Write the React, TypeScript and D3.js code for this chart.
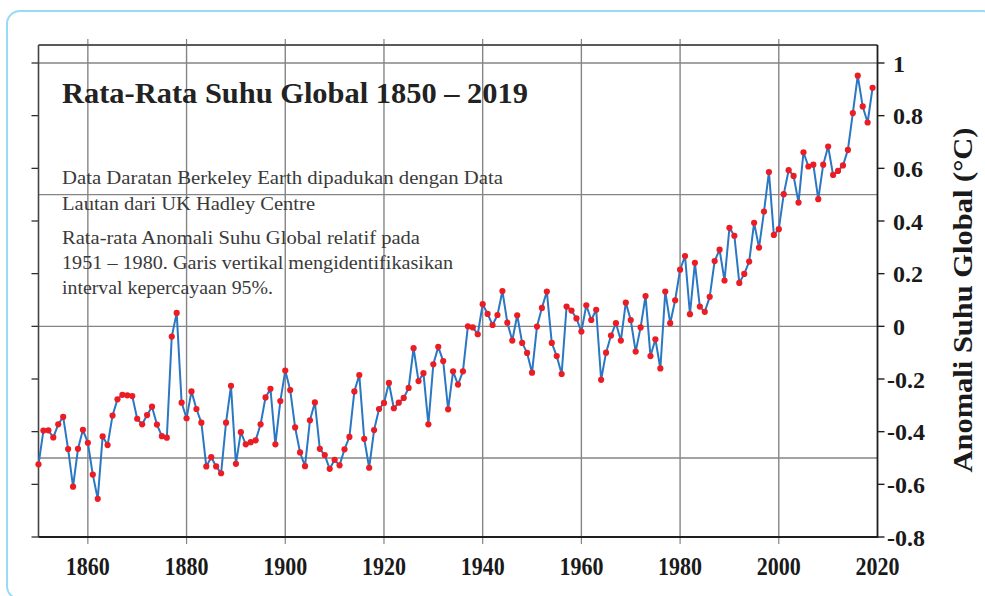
import React from "react";
import * as d3 from "d3";

// Annual global mean temperature anomaly (°C, relative to 1951–1980), 1850–2019
const startYear = 1850;
const anomalies: number[] = [
  // 1850s
  -0.524, -0.396, -0.395, -0.422, -0.372, -0.344, -0.466, -0.609, -0.465, -0.393,
  // 1860s
  -0.442, -0.563, -0.655, -0.418, -0.451, -0.339, -0.277, -0.26, -0.262, -0.265,
  // 1870s
  -0.351, -0.372, -0.337, -0.305, -0.373, -0.417, -0.423, -0.039, 0.051, -0.29,
  // 1880s
  -0.349, -0.247, -0.314, -0.366, -0.532, -0.497, -0.532, -0.558, -0.366, -0.226,
  // 1890s
  -0.522, -0.402, -0.448, -0.44, -0.433, -0.372, -0.27, -0.237, -0.448, -0.284,
  // 1900s
  -0.168, -0.242, -0.384, -0.479, -0.531, -0.357, -0.289, -0.465, -0.489, -0.541,
  // 1910s
  -0.507, -0.528, -0.467, -0.42, -0.247, -0.185, -0.427, -0.537, -0.394, -0.314,
  // 1920s
  -0.291, -0.215, -0.311, -0.29, -0.272, -0.234, -0.083, -0.208, -0.178, -0.372,
  // 1930s
  -0.144, -0.078, -0.132, -0.315, -0.171, -0.221, -0.171, 0.0, -0.004, -0.03,
  // 1940s
  0.084, 0.047, 0.005, 0.043, 0.134, 0.014, -0.054, 0.042, -0.063, -0.101,
  // 1950s
  -0.176, -0.001, 0.07, 0.132, -0.063, -0.113, -0.181, 0.075, 0.06, 0.03,
  // 1960s
  -0.02, 0.08, 0.024, 0.063, -0.203, -0.1, -0.035, 0.012, -0.054, 0.09,
  // 1970s
  0.024, -0.096, -0.004, 0.115, -0.113, -0.049, -0.16, 0.132, 0.012, 0.099,
  // 1980s
  0.215, 0.267, 0.046, 0.241, 0.075, 0.055, 0.112, 0.248, 0.291, 0.174,
  // 1990s
  0.374, 0.344, 0.165, 0.199, 0.246, 0.393, 0.299, 0.436, 0.586, 0.347,
  // 2000s
  0.369, 0.502, 0.593, 0.571, 0.47, 0.661, 0.607, 0.614, 0.483, 0.614,
  // 2010s
  0.683, 0.575, 0.59, 0.611, 0.67, 0.81, 0.952, 0.835, 0.774, 0.906,
];

const xTickYears = [1860, 1880, 1900, 1920, 1940, 1960, 1980, 2000, 2020];
const gridYears = [1860, 1880, 1900, 1920, 1940, 1960, 1980, 2000];
const yTickValues = [1, 0.8, 0.6, 0.4, 0.2, 0, -0.2, -0.4, -0.6, -0.8];
const yGridValues = [1, 0.5, 0, -0.5];

const title = "Rata-Rata Suhu Global 1850 – 2019";
const noteLines = [
  "Data Daratan Berkeley Earth dipadukan dengan Data",
  "Lautan dari UK Hadley Centre",
  "Rata-rata Anomali Suhu Global relatif pada",
  "1951 – 1980. Garis vertikal mengidentifikasikan",
  "interval kepercayaan 95%.",
];
const yAxisTitle = "Anomali Suhu Global (°C)";

const W = 985;
const H = 596;
const frame = { left: 38.5, right: 877.5, top: 45, bottom: 537 };
const serif = "'Liberation Serif', 'DejaVu Serif', serif";

const noteLayout = [
  { y: 184, len: 441 },
  { y: 210, len: 253 },
  { y: 243.5, len: 358 },
  { y: 268.5, len: 391 },
  { y: 294, len: 211 },
];

const fmtTick = (v: number) =>
  v === 0 ? "0" : v === 1 ? "1" : (v < 0 ? "-" : "") + Math.abs(v).toFixed(1);

export default function App() {
  const x = d3.scaleLinear().domain([1850, 2020]).range([frame.left, frame.right]);
  const y = d3.scaleLinear().domain([-0.8, 1]).range([537, 63]);

  const points = anomalies.map((v, i) => ({ year: startYear + i, value: v }));
  const line = d3
    .line<{ year: number; value: number }>()
    .x((d) => x(d.year))
    .y((d) => y(d.value));

  const gridColor = "#858585";
  const axisColor = "#1e1e1e";

  return (
    <svg
      width={W}
      height={H}
      viewBox={`0 0 ${W} ${H}`}
      style={{ position: "absolute", left: 0, top: 0, display: "block", background: "#fff" }}
    >
      {/* rounded panel border */}
      <rect x={7} y={11} width={988} height={588} rx={13} ry={13} fill="none" stroke="#97dcf4" strokeWidth={2} />

      {/* horizontal grid */}
      {yGridValues.map((v) => (
        <line key={"hg" + v} x1={frame.left} x2={frame.right} y1={y(v)} y2={y(v)} stroke={gridColor} strokeWidth={1.4} />
      ))}
      {/* vertical grid */}
      {gridYears.map((yr) => (
        <line key={"vg" + yr} x1={x(yr)} x2={x(yr)} y1={frame.top} y2={frame.bottom} stroke={gridColor} strokeWidth={1.4} />
      ))}
      {/* top ticks */}
      {gridYears.map((yr) => (
        <line key={"tt" + yr} x1={x(yr)} x2={x(yr)} y1={frame.top - 6} y2={frame.top} stroke={gridColor} strokeWidth={1.2} />
      ))}
      {/* bottom ticks */}
      {gridYears.map((yr) => (
        <line key={"bt" + yr} x1={x(yr)} x2={x(yr)} y1={frame.bottom} y2={frame.bottom + 7} stroke={gridColor} strokeWidth={1.2} />
      ))}
      {/* left ticks */}
      {yTickValues.map((v) => (
        <line key={"lt" + v} x1={frame.left - 7} x2={frame.left} y1={y(v)} y2={y(v)} stroke={axisColor} strokeWidth={1.2} />
      ))}
      {/* right ticks */}
      {yTickValues.map((v) => (
        <line key={"rt" + v} x1={frame.right} x2={frame.right + 7} y1={y(v)} y2={y(v)} stroke={axisColor} strokeWidth={1.4} />
      ))}

      {/* frame */}
      <line x1={frame.left} x2={frame.right} y1={frame.top} y2={frame.top} stroke="#5a5a5a" strokeWidth={2} />
      <line x1={frame.left} x2={frame.left} y1={frame.top} y2={frame.bottom} stroke="#444" strokeWidth={1.6} />
      <line x1={frame.right} x2={frame.right} y1={frame.top} y2={frame.bottom + 1} stroke={axisColor} strokeWidth={1.8} />
      <line x1={frame.left} x2={frame.right} y1={frame.bottom} y2={frame.bottom} stroke={axisColor} strokeWidth={2} />

      {/* title and notes */}
      <text x={62} y={103} fontFamily={serif} fontWeight="bold" fontSize={29} fill="#222" textLength={466} lengthAdjust="spacingAndGlyphs">
        {title}
      </text>
      {noteLines.map((t, i) => (
        <text key={t} x={62} y={noteLayout[i].y} fontFamily={serif} fontSize={19} fill="#3a3a3a" textLength={noteLayout[i].len} lengthAdjust="spacingAndGlyphs">
          {t}
        </text>
      ))}

      {/* series */}
      <path d={line(points) ?? ""} fill="none" stroke="#2a77c3" strokeWidth={2} strokeLinejoin="round" />
      {points.map((p) => (
        <circle key={p.year} cx={x(p.year)} cy={y(p.value)} r={3.1} fill="#ec1c24" />
      ))}

      {/* x tick labels */}
      {xTickYears.map((yr) => (
        <text key={"xl" + yr} x={x(yr)} y={575} textAnchor="middle" fontFamily={serif} fontWeight="bold" fontSize={25} fill="#1a1a1a" textLength={44} lengthAdjust="spacingAndGlyphs">
          {yr}
        </text>
      ))}
      {/* y tick labels */}
      {yTickValues.map((v) => (
        <text key={"yl" + v} x={v < 0 ? 887 : 893} y={y(v)} dy="0.36em" fontFamily={serif} fontWeight="bold" fontSize={24} fill="#1a1a1a">
          {fmtTick(v)}
        </text>
      ))}
      {/* y axis title */}
      <text
        transform={`translate(972, ${y(0.1)}) rotate(-90)`}
        textAnchor="middle"
        fontFamily={serif}
        fontWeight="bold"
        fontSize={27}
        fill="#1a1a1a"
        textLength={345}
        lengthAdjust="spacingAndGlyphs"
      >
        {yAxisTitle}
      </text>
    </svg>
  );
}
